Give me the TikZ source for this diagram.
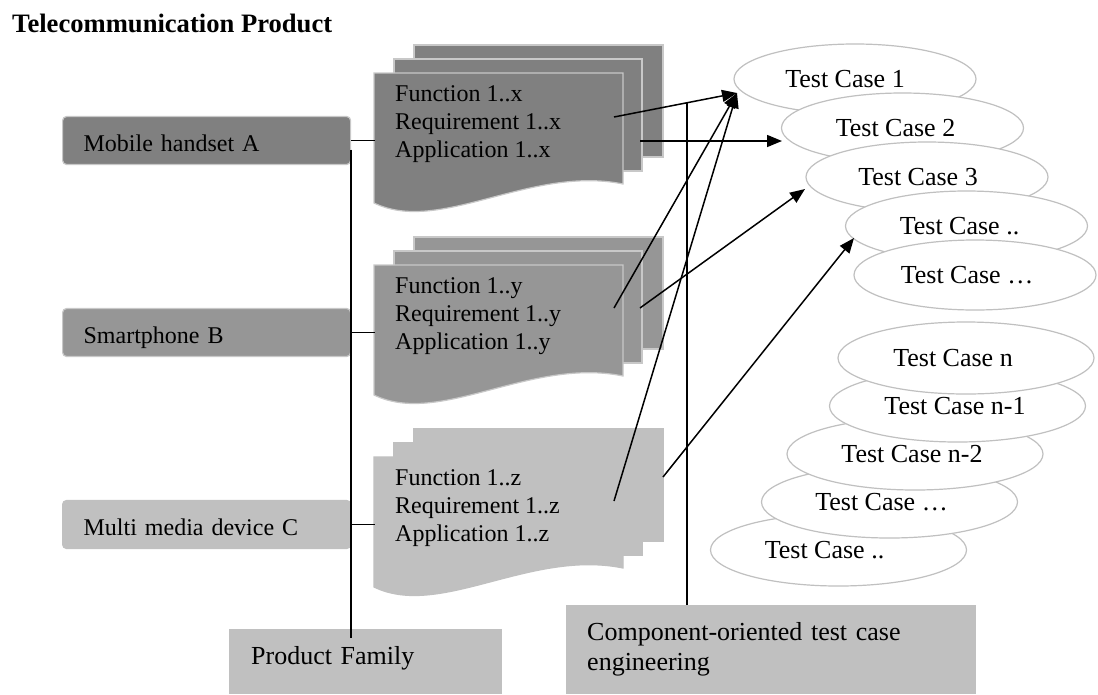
\documentclass[tikz,border=0pt]{standalone}
\usepackage{fontspec}
\setmainfont{Liberation Serif}
\usetikzlibrary{arrows.meta,shapes.geometric}

\definecolor{shadeA}{HTML}{808080}
\definecolor{shadeB}{HTML}{969696}
\definecolor{shadeC}{HTML}{C0C0C0}
\definecolor{rim}{HTML}{C8C8C8}

% a stack of three sheets; #1 vertical offset, #2 fill, #3 outline
\newcommand\sheetstack[3]{%
  \begin{scope}[shift={(0,#1)}, line width=1.2pt]
    \filldraw[fill=#2, draw=#3] (414,45) rectangle (663,157);
    \filldraw[fill=#2, draw=#3] (394,59) rectangle (642,171);
    \filldraw[fill=#2, draw=#3] (374,73) -- (623,73) -- (623,184)
      .. controls (530,165) and (440,235) .. (374,203) -- cycle;
  \end{scope}}

\begin{document}
\begin{tikzpicture}[x=1pt, y=-1pt,
  wire/.style={line width=1.5pt, black},
  link/.style={line width=1.5pt, black, -{Triangle[length=15pt, width=12pt]}},
  devbox/.style={rounded corners=4pt, line width=1.2pt, anchor=west,
    minimum height=48pt, inner xsep=21pt, inner ysep=0pt, text width=246pt,
    align=left, text height=23pt, text depth=2pt,
    font=\fontsize{24}{28}\selectfont},
  sheettext/.style={anchor=west, inner sep=0pt, align=left,
    font=\fontsize{24}{28}\selectfont},
  tc/.style={ellipse, draw=shadeC, fill=white, line width=1.2pt, inner sep=0pt,
    font=\fontsize{26}{30}\selectfont},
  tctop/.style={tc, minimum width=242pt, minimum height=70pt},
  tcbot/.style={tc, minimum width=256pt, minimum height=72pt},
  labelbox/.style={fill=shadeC, anchor=north west, inner ysep=0pt,
    align=left, font=\fontsize{26}{30}\selectfont}]

\useasboundingbox (0,0) rectangle (1098,694);
\fill[white] (0,0) rectangle (1098,694);

% heading
\node[anchor=base west, inner sep=0pt, font=\fontsize{26.6}{30}\selectfont\bfseries]
  (title) at (12,32) {Telecommunication Product};

% products
\node[devbox, fill=shadeA, draw=rim] (devA) at (62,140.5) {Mobile handset A};
\node[devbox, fill=shadeB, draw=rim] (devB) at (62,332.5) {Smartphone B};
\node[devbox, fill=shadeC, draw=shadeC] (devC) at (62,524.5) {Multi media device C};

% specification sheets
\sheetstack{0}{shadeA}{rim}
\sheetstack{192}{shadeB}{rim}
\sheetstack{384}{shadeC}{shadeC}

\node[sheettext] (specA) at (395,124.4) {Function 1..x\\Requirement 1..x\\Application 1..x};
\node[sheettext] (specB) at (395,316.4) {Function 1..y\\Requirement 1..y\\Application 1..y};
\node[sheettext] (specC) at (395,508.4) {Function 1..z\\Requirement 1..z\\Application 1..z};

% bottom captions
\node[labelbox, minimum width=273pt, minimum height=65pt, text width=229pt,
  inner xsep=22pt, text height=15pt, text depth=10pt] (pf) at (229,629) {Product Family};
\node[labelbox, minimum width=410pt, minimum height=89pt, text width=368pt,
  inner xsep=21pt] (ce) at (566,605) {Component-oriented test case\\engineering};

% test cases, upper group
\node[tctop] (tc1) at (855,79) {\kern-20pt Test Case 1};
\node[tctop] (tc2) at (902.5,128) {\kern-14pt Test Case 2};
\node[tctop] (tc3) at (927,177) {\kern-18pt Test Case 3};
\node[tctop] (tc4) at (966.5,226) {\kern-14pt Test Case ..};
\node[tctop] (tc5) at (975,275) {\kern-16pt Test Case …};

% test cases, lower group
\node[tcbot] (tcz) at (838.5,550) {\kern-28pt Test Case ..};
\node[tcbot] (tcy) at (889.5,502) {\kern-16pt Test Case …};
\node[tcbot] (tcn2) at (915,454) {\kern-6pt Test Case n-2};
\node[tcbot] (tcn1) at (957.5,406) {\kern-5pt Test Case n-1};
\node[tcbot] (tcn) at (966,358) {\kern-26pt Test Case n};

% product family tree
\draw[wire] (devA.east) -- ++(24,0);
\draw[wire] (devB.east) -- ++(24,0);
\draw[wire] (devC.east) -- ++(24,0);
\draw[wire] ([yshift=-9pt]devA.east) -- ([yshift=-9pt]devA.east |- pf.north);

% links from sheets to test cases
\coordinate (sA1) at (614,117);
\coordinate (sA2) at (640,141);
\coordinate (sB1) at (614,308);
\coordinate (sB2) at (640,308);
\coordinate (sC1) at (614,501);
\coordinate (sC2) at (663,477);
\coordinate (h1) at (737,93);
\coordinate (h2) at (782,141);
\coordinate (h3) at (805,189);
\coordinate (h4) at (854,238);

\draw[link] (sA1) -- (h1);
\draw[link] (sA2) -- (h2);
\draw[link] (sB1) -- (h1);
\draw[link] (sB2) -- (h3);
\draw[link] (sC1) -- (h1);
\draw[link] (sC2) -- (h4);

% test case engineering stem
\coordinate (jn) at (687,102.6);
\draw[wire] (jn) -- (jn |- ce.north);

\end{tikzpicture}
\end{document}
